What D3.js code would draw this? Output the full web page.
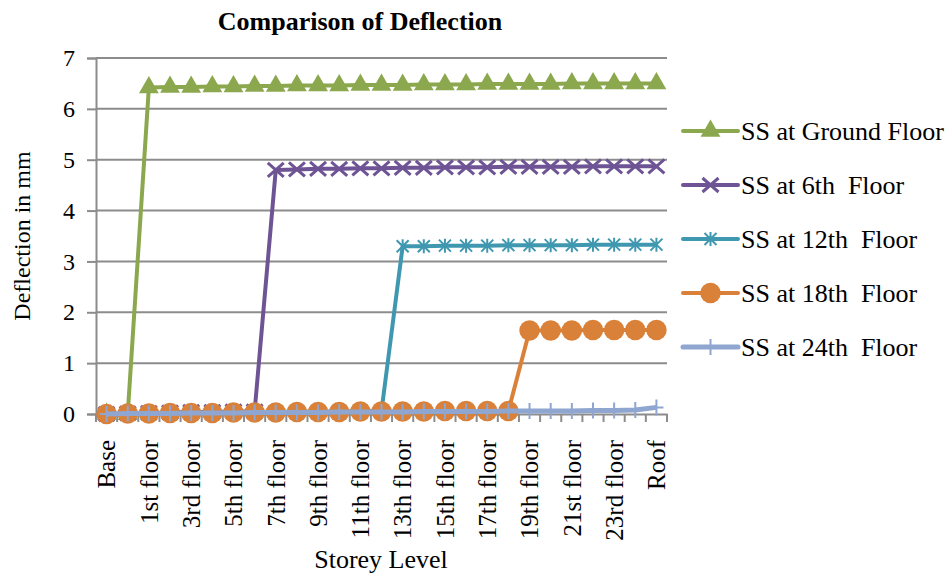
<!DOCTYPE html>
<html>
<head>
<meta charset="utf-8">
<script src="https://cdn.jsdelivr.net/npm/d3@7"></script>
<style>
  body { margin: 0; background: #fff; }
</style>
</head>
<body>
<svg id="chart" width="949" height="574"></svg>
<script>
const categories = ["Base","Ground","1st floor","2nd floor","3rd floor","4th floor","5th floor","6th floor",
  "7th floor","8th floor","9th floor","10th floor","11th floor","12th floor","13th floor","14th floor",
  "15th floor","16th floor","17th floor","18th floor","19th floor","20th floor","21st floor","22nd floor",
  "23rd floor","24th floor","Roof"];

const ssGround = [0, 0, 6.42, 6.43, 6.43, 6.44, 6.44, 6.45, 6.45, 6.46, 6.46, 6.46, 6.47, 6.47, 6.47, 6.48,
  6.48, 6.48, 6.49, 6.49, 6.49, 6.49, 6.50, 6.50, 6.50, 6.50, 6.50];
const ss6th = [0, 0.01, 0.02, 0.03, 0.04, 0.04, 0.05, 0.05, 4.80, 4.81, 4.82, 4.82, 4.83, 4.83, 4.84, 4.84,
  4.85, 4.85, 4.85, 4.86, 4.86, 4.86, 4.86, 4.87, 4.87, 4.87, 4.87];
const ss12th = [0, 0.01, 0.01, 0.02, 0.02, 0.03, 0.03, 0.04, 0.04, 0.05, 0.05, 0.05, 0.06, 0.06, 3.30, 3.30,
  3.31, 3.31, 3.31, 3.32, 3.32, 3.32, 3.32, 3.33, 3.33, 3.33, 3.33];
const ss18th = [0, 0.01, 0.01, 0.02, 0.02, 0.02, 0.03, 0.03, 0.03, 0.04, 0.04, 0.04, 0.05, 0.05, 0.05, 0.05,
  0.06, 0.06, 0.06, 0.06, 1.64, 1.64, 1.64, 1.65, 1.65, 1.65, 1.65];
const ss24th = [0, 0.01, 0.01, 0.01, 0.02, 0.02, 0.02, 0.03, 0.03, 0.03, 0.03, 0.04, 0.04, 0.04, 0.04, 0.05,
  0.05, 0.05, 0.05, 0.06, 0.06, 0.06, 0.06, 0.07, 0.07, 0.08, 0.13];

const seriesNames = ["SS at Ground Floor", "SS at 6th  Floor", "SS at 12th  Floor", "SS at 18th  Floor", "SS at 24th  Floor"];
const yTicks = [0, 1, 2, 3, 4, 5, 6, 7];

const FONT = "'Liberation Serif', 'Times New Roman', serif";
const colors = ["#8BA84E", "#6E5494", "#3F98B0", "#DA8139", "#8EA6D0"];
const markers = ["triangle", "x", "star", "circle", "plus"];
const seriesValues = [ssGround, ss6th, ss12th, ss18th, ss24th];

const svg = d3.select("#chart");
const m = { left: 96, right: 667, top: 58, bottom: 414 };

const x = d3.scaleBand().domain(categories).range([m.left, m.right]).paddingInner(0).paddingOuter(0);
const y = d3.scaleLinear().domain([0, 7]).range([m.bottom, m.top]);

// gridlines
svg.append("g").selectAll("line").data(yTicks.filter(d => d > 0)).join("line")
  .attr("x1", m.left).attr("x2", m.right)
  .attr("y1", d => y(d)).attr("y2", d => y(d))
  .attr("stroke", "#8c8c8c").attr("stroke-width", 2);

// y axis
const yAxis = svg.append("g").attr("transform", `translate(${m.left},0)`)
  .call(d3.axisLeft(y).tickValues(yTicks).tickSize(9).tickPadding(12).tickFormat(d3.format("d")));
yAxis.attr("font-family", FONT);
yAxis.select(".domain").attr("stroke", "#8c8c8c").attr("stroke-width", 2);
yAxis.selectAll(".tick line").attr("stroke", "#8c8c8c").attr("stroke-width", 2);
yAxis.selectAll("text").attr("font-size", 24).attr("font-family", FONT).attr("fill", "#000");

// x axis
const xAxis = svg.append("g").attr("transform", `translate(0,${m.bottom})`)
  .call(d3.axisBottom(x).tickSize(0).tickFormat((d, i) => i % 2 === 0 ? d : ""));
xAxis.attr("font-family", FONT);
xAxis.select(".domain").attr("stroke", "#8c8c8c").attr("stroke-width", 2);
xAxis.selectAll("text")
  .attr("font-size", 25).attr("font-family", FONT).attr("fill", "#000")
  .attr("text-anchor", "end")
  .attr("transform", "rotate(-90)")
  .attr("x", -26).attr("y", 0).attr("dy", "0.35em");
// boundary tick marks
const boundaries = categories.map(c => x(c)).concat([x(categories[categories.length - 1]) + x.bandwidth()]);
svg.append("g").selectAll("line").data(boundaries).join("line")
  .attr("x1", d => d).attr("x2", d => d)
  .attr("y1", m.bottom).attr("y2", m.bottom + 8)
  .attr("stroke", "#8c8c8c").attr("stroke-width", 2);

function markerPath(type) {
  if (type === "triangle") return d3.symbol(d3.symbolTriangle, 170)();
  if (type === "x") { const p = d3.path(); p.moveTo(-8, -7); p.lineTo(8, 7); p.moveTo(-8, 7); p.lineTo(8, -7); return p.toString(); }
  if (type === "star") { const p = d3.path(); p.moveTo(-6, -6); p.lineTo(6, 6); p.moveTo(-6, 6); p.lineTo(6, -6); p.moveTo(0, -7); p.lineTo(0, 7); return p.toString(); }
  if (type === "plus") { const p = d3.path(); p.moveTo(0, -8); p.lineTo(0, 8); p.moveTo(-7, 0); p.lineTo(7, 0); return p.toString(); }
  return d3.symbol(d3.symbolCircle, 330)();
}
function drawMarker(sel, type, color) {
  const filled = type === "triangle" || type === "circle";
  sel.append("path").attr("d", markerPath(type))
    .attr("fill", filled ? color : "none")
    .attr("stroke", filled ? "none" : color)
    .attr("stroke-width", type === "x" ? 3 : 2);
}

const line = d3.line().x((d, i) => x(categories[i]) + x.bandwidth() / 2).y(d => y(d));

seriesValues.forEach((vals, s) => {
  const g = svg.append("g");
  g.append("path").datum(vals).attr("d", line)
    .attr("fill", "none").attr("stroke", colors[s]).attr("stroke-width", s === 4 ? 5 : 4)
    .attr("stroke-linejoin", "round");
  vals.forEach((v, i) => {
    const mg = g.append("g").attr("transform", `translate(${x(categories[i]) + x.bandwidth() / 2},${y(v)})`);
    drawMarker(mg, markers[s], colors[s]);
  });
});

// legend
const legend = svg.append("g");
seriesNames.forEach((name, s) => {
  const ly = 131 + s * 54;
  const lg = legend.append("g").attr("transform", `translate(683,${ly})`);
  lg.append("line").attr("x1", 0).attr("x2", 55).attr("y1", 0).attr("y2", 0)
    .attr("stroke", colors[s]).attr("stroke-width", s === 4 ? 5 : 4).attr("stroke-linecap", "round");
  const mg = lg.append("g").attr("transform", "translate(27.5,0)");
  drawMarker(mg, markers[s], colors[s]);
  lg.append("text").attr("x", 58).attr("y", 0).attr("dy", "0.35em")
    .attr("font-family", FONT).attr("font-size", 26).attr("fill", "#000")
    .style("white-space", "pre").text(name);
});

// titles
svg.append("text").attr("x", 360).attr("y", 30).attr("text-anchor", "middle")
  .attr("font-family", FONT).attr("font-size", 26).attr("font-weight", "bold").attr("fill", "#000")
  .text("Comparison of Deflection");
svg.append("text").attr("transform", `translate(30,${(m.top + m.bottom) / 2}) rotate(-90)`)
  .attr("font-family", FONT).attr("text-anchor", "middle").attr("font-size", 24).attr("fill", "#000")
  .text("Deflection in mm");
svg.append("text").attr("x", 381).attr("y", 568).attr("text-anchor", "middle")
  .attr("font-family", FONT).attr("font-size", 26).attr("fill", "#000")
  .text("Storey Level");
</script>
</body>
</html>
